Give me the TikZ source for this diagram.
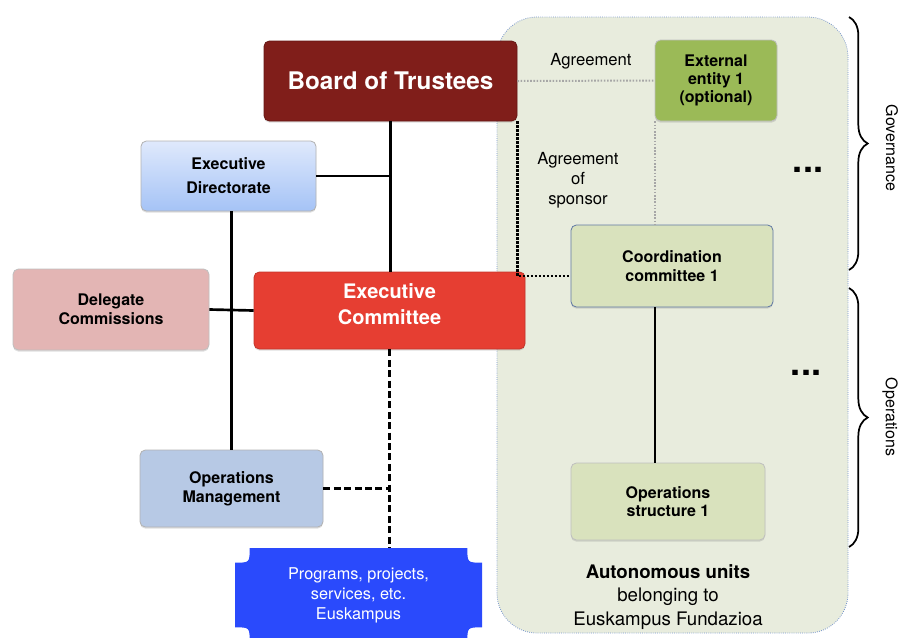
\documentclass[tikz,border=0pt]{standalone}
\usepackage{fontspec}
\setmainfont{TeX Gyre Heros}
\usepackage{xcolor}
\definecolor{trustred}{RGB}{128,30,26}
\definecolor{execred}{RGB}{230,62,50}
\definecolor{delegpink}{RGB}{227,181,180}
\definecolor{opsblue}{RGB}{183,201,229}
\definecolor{dirtop}{RGB}{223,233,252}
\definecolor{dirbottom}{RGB}{165,195,246}
\definecolor{extgreen}{RGB}{155,186,87}
\definecolor{unitgreen}{RGB}{217,226,189}
\definecolor{unitbg}{RGB}{232,236,221}
\definecolor{progblue}{RGB}{42,74,252}
\definecolor{rimblue}{RGB}{120,150,205}
\usetikzlibrary{calc}
\usetikzlibrary{shadows}
\usetikzlibrary{decorations.pathreplacing}
\tikzset{
  every node/.style={
    text=black
  },
  box/.style 2 args={
    rectangle, rounded corners=4pt, align=center, inner sep=0pt,
    minimum width=#1*0.75pt, minimum height=#2*0.75pt,
    draw=black!30, line width=0.6pt,
    font=\fontsize{12}{14}\selectfont\bfseries,
    drop shadow={opacity=.25, shadow xshift=0pt, shadow yshift=-1.2pt}
  },
  tie/.style={line width=2pt},
  loose/.style={line width=2pt, dash pattern=on 5.2pt off 2.6pt},
  pact/.style={black!35, line width=1.5pt, dash pattern=on 1.2pt off 1.2pt},
  sponsor/.style={black, line width=2.2pt, dash pattern=on 1.6pt off 1.4pt},
  label/.style={align=center, font=\fontsize{12.5}{15}\selectfont},
  more/.style={font=\fontsize{27}{27}\selectfont\bfseries},
  side/.style={rotate=-90, font=\fontsize{12}{14}\selectfont},
  bracket/.style={line width=1.3pt, decorate, decoration={brace, amplitude=14pt}}
}

\begin{document}
\begin{tikzpicture}[x=0.75pt, y=-0.75pt]
    %\draw[gray, very thin] (0,0) grid[step=50] (899,637);
    \useasboundingbox (0,0) rectangle (899,637);

    % autonomous units
    \draw [fill=unitbg, draw=rimblue, densely dotted, line width=0.6pt, rounded corners=30pt] (497,17) rectangle (848,633);

    \node [box={253}{80}, fill=trustred, draw=trustred!80!black, text=white, font=\fontsize{18.2}{22}\selectfont\bfseries] (board) at (390.5,81) {Board of Trustees};
    \node [box={175}{70}, top color=dirtop, bottom color=dirbottom, font=\fontsize{12}{18}\selectfont\bfseries] (dir) at (228.5,176) {Executive\\Directorate};
    \node [box={271}{77}, fill=execred, draw=execred!85!black, text=white, text depth=10pt, font=\fontsize{15}{19.5}\selectfont\bfseries] (exec) at (389.5,310.5) {Executive\\Committee};
    \node [box={196}{81}, fill=delegpink, draw=black!25] (deleg) at (111,309.5) {Delegate\\Commissions};
    \node [box={183}{77}, fill=opsblue, draw=black!30] (opm) at (231.5,488.5) {Operations\\Management};

    \coordinate (pnw) at (235,548);
    \coordinate (pse) at (482,642);
    \fill [progblue] let \p1=(pnw), \p2=(pse) in
      (\x1+11pt,\y1) -- (\x2-11pt,\y1) .. controls (\x2-11pt,\y1-11pt) .. (\x2,\y1-11pt)
      -- (\x2,\y2+11pt) .. controls (\x2-11pt,\y2+11pt) .. (\x2-11pt,\y2)
      -- (\x1+11pt,\y2) .. controls (\x1+11pt,\y2+11pt) .. (\x1,\y2+11pt)
      -- (\x1,\y1-11pt) .. controls (\x1+11pt,\y1-11pt) .. cycle;
    \node [align=center, text=white, inner sep=0pt, minimum width=247*0.75pt, minimum height=94*0.75pt, font=\fontsize{12.2}{15}\selectfont] (prog) at ($(pnw)!.5!(pse)$) {Programs, projects,\\services, etc.\\Euskampus};

    \node [box={122}{81}, fill=extgreen, draw=black!25, font=\fontsize{12}{13.5}\selectfont\bfseries] (ext) at (716,80.5) {External\\entity 1\\(optional)};
    \node [box={202}{82}, fill=unitgreen, draw=rimblue!80!black] (coord) at (672,266) {Coordination\\committee 1};
    \node [box={194}{77}, fill=unitgreen, draw=black!25] (opstr) at (668,501.5) {Operations\\structure 1};

    % lines
    \draw [tie] (board.south) -- (board.south |- exec.north);
    \draw [tie] (dir.east) -- (dir.east -| board.south);
    \draw [tie] (opm.north |- dir.south) -- (opm.north);
    \draw [tie] (deleg.east) -- (exec.west);
    \draw [loose] (exec.south) -- (exec.south |- prog.north);
    \draw [loose] (opm.east) -- (opm.east -| exec.south);
    \draw [pact] (board.east) -- (ext.west);
    \draw [pact] (ext.south west) -- (ext.south west |- coord.north);
    \coordinate (sp) at ([yshift=-7.5pt]coord.west);
    \draw [sponsor] (board.south east) -- (board.south east |- sp) -- (sp);
    \draw [line width=1.5pt] (coord.south -| ext.west) -- (opstr.north -| ext.west);

    \node [label] (agree) at (591,61) {Agreement};
    \node [label] (agreesp) at (578,180) {Agreement\\of\\sponsor};
    \node [more] (moregov) at (808,170) {...};
    \node [more] (moreops) at (806,373) {...};
    \node [align=center, font=\fontsize{14}{17.3}\selectfont] (units) at (668,597) {\textbf{Autonomous units}\\belonging to\\Euskampus Fundazioa};

    \draw [bracket] (849,17) -- (849,270);
    \draw [bracket] (849,288) -- (849,547);
    \node [side] (gov) at (892,148) {Governance};
    \node [side] (ops) at (890,417) {Operations};
\end{tikzpicture}
\end{document}
